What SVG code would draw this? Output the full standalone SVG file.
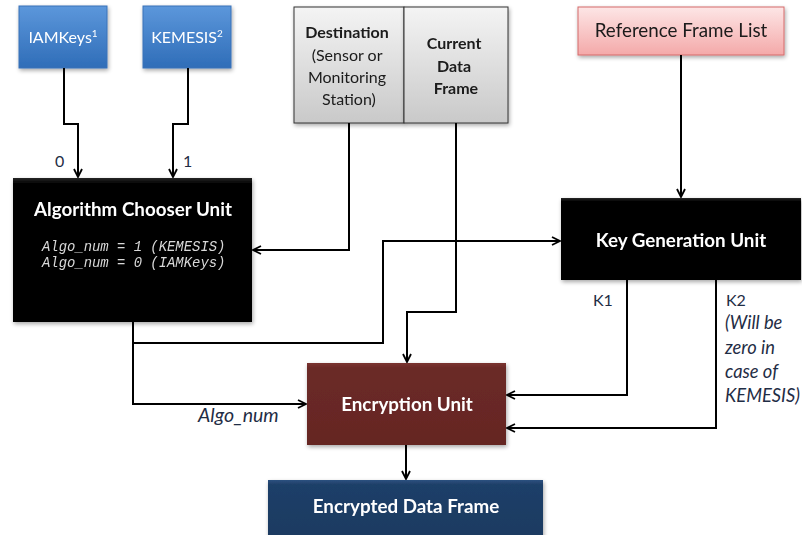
<svg xmlns="http://www.w3.org/2000/svg" width="802" height="535" viewBox="0 0 802 535">
  <defs>
    <linearGradient id="gBlue" x1="0" y1="0" x2="0" y2="1">
      <stop offset="0" stop-color="#5C97DB"/>
      <stop offset="1" stop-color="#2F6DB8"/>
    </linearGradient>
    <linearGradient id="gGray" x1="0" y1="0" x2="0" y2="1">
      <stop offset="0" stop-color="#F4F4F4"/>
      <stop offset="1" stop-color="#C9C9C9"/>
    </linearGradient>
    <linearGradient id="gPink" x1="0" y1="0" x2="0" y2="1">
      <stop offset="0" stop-color="#FDE6E6"/>
      <stop offset="1" stop-color="#F4A9A9"/>
    </linearGradient>
    <linearGradient id="gBlack" x1="0" y1="0" x2="0" y2="1">
      <stop offset="0" stop-color="#262626"/>
      <stop offset="0.04" stop-color="#000"/>
      <stop offset="1" stop-color="#000"/>
    </linearGradient>
    <linearGradient id="gMaroon" x1="0" y1="0" x2="0" y2="1">
      <stop offset="0" stop-color="#7A3330"/>
      <stop offset="0.06" stop-color="#6B2A27"/>
      <stop offset="1" stop-color="#652623"/>
    </linearGradient>
    <linearGradient id="gNavy" x1="0" y1="0" x2="0" y2="1">
      <stop offset="0" stop-color="#2D5180"/>
      <stop offset="0.08" stop-color="#1F3F68"/>
      <stop offset="1" stop-color="#1C3A61"/>
    </linearGradient>
    <filter id="shadow" x="-10%" y="-10%" width="125%" height="130%">
      <feGaussianBlur in="SourceAlpha" stdDeviation="2"/>
      <feOffset dx="1" dy="2" result="b"/>
      <feComponentTransfer><feFuncA type="linear" slope="0.35"/></feComponentTransfer>
      <feMerge><feMergeNode/><feMergeNode in="SourceGraphic"/></feMerge>
    </filter>
    <marker id="arrow" viewBox="0 0 10 10" refX="9" refY="5" markerWidth="10" markerHeight="10" markerUnits="userSpaceOnUse" orient="auto">
      <path d="M1,1 L9,5 L1,9" fill="none" stroke="#000" stroke-width="1.8"/>
    </marker>
  </defs>
  <style>
    .lbl { font-family: Lato, "Liberation Sans", sans-serif; font-size: 16px; }
    .wt { fill: #fff; }
    .bold { font-weight: bold; }
    .unit { font-weight: bold; font-size: 18.8px; fill: #fff; }
    .big { font-size: 18.8px; }
    .dark { fill: #1a1a1a; }
    .navy { fill: #1F2D45; }
    .note { font-style: italic; font-size: 18.3px; }
    .mono { font-family: "Liberation Mono", monospace; font-style: italic; font-size: 13.9px; fill: #d8d8d8; }
    .wire { fill: none; stroke: #000; stroke-width: 2; }
  </style>

  <rect width="802" height="535" fill="#fff"/>

  <!-- source boxes -->
  <g id="iamkeys" filter="url(#shadow)">
    <rect x="19" y="6" width="88" height="62" fill="url(#gBlue)" stroke="#3A72B8" stroke-width="1"/>
    <text x="63" y="43" text-anchor="middle" class="lbl wt">IAMKeys<tspan font-size="10" dy="-6">1</tspan></text>
  </g>
  <g id="kemesis" filter="url(#shadow)">
    <rect x="143" y="6" width="88" height="62" fill="url(#gBlue)" stroke="#3A72B8" stroke-width="1"/>
    <text x="187" y="43" text-anchor="middle" class="lbl wt">KEMESIS<tspan font-size="10" dy="-6">2</tspan></text>
  </g>

  <g id="destination" filter="url(#shadow)">
    <rect x="294" y="7" width="110" height="116" fill="url(#gGray)" stroke="#333" stroke-width="1"/>
    <text class="lbl dark" text-anchor="middle">
      <tspan x="349" y="38" font-weight="bold">Destination</tspan>
      <tspan x="349" y="61">(Sensor or</tspan>
      <tspan x="349" y="83">Monitoring</tspan>
      <tspan x="349" y="105">Station)</tspan>
    </text>
  </g>
  <g id="current-data-frame" filter="url(#shadow)">
    <rect x="404" y="7" width="104" height="116" fill="url(#gGray)" stroke="#333" stroke-width="1"/>
    <text class="lbl dark bold" text-anchor="middle">
      <tspan x="456" y="49">Current</tspan>
      <tspan x="456" y="72">Data</tspan>
      <tspan x="456" y="94">Frame</tspan>
    </text>
  </g>

  <g id="reference-frame-list" filter="url(#shadow)">
    <rect x="578" y="7" width="206" height="48" fill="url(#gPink)" stroke="#D46A6A" stroke-width="1"/>
    <text x="681" y="37" text-anchor="middle" class="lbl dark big">Reference Frame List</text>
  </g>

  <!-- processing units -->
  <g id="algorithm-chooser" filter="url(#shadow)">
    <rect x="13" y="178" width="239" height="144" fill="url(#gBlack)"/>
    <text x="133" y="216" text-anchor="middle" class="lbl unit">Algorithm Chooser Unit</text>
    <text x="42" y="251" class="mono">Algo_num = 1 (KEMESIS)</text>
    <text x="42" y="267" class="mono">Algo_num = 0 (IAMKeys)</text>
  </g>

  <g id="key-generation" filter="url(#shadow)">
    <rect x="561" y="198" width="240" height="82" fill="url(#gBlack)"/>
    <text x="681" y="247" text-anchor="middle" class="lbl unit">Key Generation Unit</text>
  </g>

  <g id="encryption" filter="url(#shadow)">
    <rect x="307" y="363" width="199" height="82" fill="url(#gMaroon)"/>
    <text x="407" y="411" text-anchor="middle" class="lbl unit">Encryption Unit</text>
  </g>

  <g id="encrypted-data-frame" filter="url(#shadow)">
    <rect x="268" y="480" width="275" height="58" fill="url(#gNavy)"/>
    <text x="406" y="513" text-anchor="middle" class="lbl unit">Encrypted Data Frame</text>
  </g>

  <!-- connectors -->
  <g id="connectors">
    <path class="wire" d="M64,68 V124 H78 V177" marker-end="url(#arrow)"/>
    <path class="wire" d="M188,68 V124 H173 V177" marker-end="url(#arrow)"/>
    <path class="wire" d="M349,123 V250 H253" marker-end="url(#arrow)"/>
    <path class="wire" d="M681,55 V197" marker-end="url(#arrow)"/>
    <path class="wire" d="M133,322 V343 H383 V241 H560" marker-end="url(#arrow)"/>
    <path class="wire" d="M133,343 V404 H306" marker-end="url(#arrow)"/>
    <path class="wire" d="M456,123 V312 H407 V362" marker-end="url(#arrow)"/>
    <path class="wire" d="M627,280 V395 H507" marker-end="url(#arrow)"/>
    <path class="wire" d="M716,280 V428 H507" marker-end="url(#arrow)"/>
    <path class="wire" d="M406,445 V479" marker-end="url(#arrow)"/>
  </g>

  <!-- connector labels -->
  <g id="labels">
    <text x="55" y="167" class="lbl navy">0</text>
    <text x="183" y="167" class="lbl navy">1</text>
    <text x="593" y="306" class="lbl navy">K1</text>
    <text x="726" y="306" class="lbl navy">K2</text>
    <text class="lbl navy note">
      <tspan x="725" y="329">(Will be</tspan>
      <tspan x="725" y="354">zero in</tspan>
      <tspan x="725" y="378">case of</tspan>
      <tspan x="725" y="402">KEMESIS)</tspan>
    </text>
    <text x="198" y="422" class="lbl navy note" style="font-size:19.5px">Algo_num</text>
  </g>
</svg>
